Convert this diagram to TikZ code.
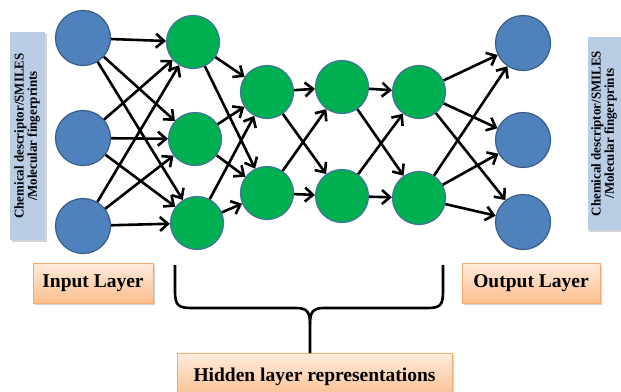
\documentclass[tikz,border=0pt]{standalone}
\usepackage{fontspec}
\setmainfont{Liberation Serif}
\usetikzlibrary{arrows.meta,shadows}

\definecolor{inblue}{RGB}{79,129,189}
\definecolor{inedge}{RGB}{56,93,138}
\definecolor{hidgreen}{RGB}{0,176,80}
\definecolor{hidedge}{RGB}{65,113,156}
\definecolor{sideblue}{RGB}{185,205,229}
\definecolor{peachtop}{RGB}{255,236,220}
\definecolor{peachbot}{RGB}{250,190,140}
\definecolor{peachedge}{RGB}{245,170,110}

\tikzset{
  neuron/.style={circle, inner sep=0pt, line width=1.2pt},
  innode/.style={neuron, minimum size=55pt, fill=inblue, draw=inedge},
  hidnode/.style={neuron, minimum size=53pt, fill=hidgreen, draw=hidedge},
  link/.style={line width=2.6pt, -{Straight Barb[length=8pt,width=14pt]}},
  softshadow/.style={drop shadow={opacity=0.35, shadow xshift=1.5pt, shadow yshift=-1.5pt}},
  layerbox/.style={draw=peachedge, line width=0.8pt, top color=peachtop,
    bottom color=peachbot, softshadow, inner sep=0pt,
    font=\fontsize{19.5}{22}\selectfont\bfseries},
  sidebox/.style={fill=sideblue, softshadow, rotate=90, inner sep=0pt,
    font=\fontsize{13.5}{13}\selectfont\bfseries},
  bracket/.style={line width=2.6pt, line join=round}
}

% two-line caption set along the side boxes
\newcommand{\sidetext}{\scalebox{0.96}[1]{\begin{tabular}{@{}c@{}}Chemical descriptor/SMILES\\/Molecular fingerprints\end{tabular}}}

\begin{document}
\begin{tikzpicture}[x=1pt, y=-1pt]
  \useasboundingbox (0,0) rectangle (621,391);
  \clip (0,0) rectangle (621,391);

  % side captions
  \node[sidebox, minimum width=208pt, minimum height=35pt] (lcap) at (27.5,136) {\raisebox{-1.5pt}{\sidetext}};
  \node[sidebox, minimum width=193pt, minimum height=34pt] (rcap) at (604.5,133.5) {\raisebox{-1.5pt}{\sidetext}};

  % input layer
  \node[innode] (i1) at (83,38) {};
  \node[innode] (i2) at (83,138) {};
  \node[innode] (i3) at (83,226) {};

  % hidden layers
  \node[hidnode] (a1) at (193,42) {};
  \node[hidnode] (a2) at (195,139) {};
  \node[hidnode] (a3) at (197,223) {};
  \node[hidnode] (b1) at (267,92) {};
  \node[hidnode] (b2) at (267,193) {};
  \node[hidnode] (c1) at (342,87) {};
  \node[hidnode] (c2) at (342,196) {};
  \node[hidnode] (d1) at (419,92) {};
  \node[hidnode] (d2) at (419,198) {};

  % output layer
  \node[innode] (o1) at (523,43) {};
  \node[innode] (o2) at (523,140) {};
  \node[innode] (o3) at (523,222) {};

  % connections
  \foreach \s in {i1,i2,i3} \foreach \t in {a1,a2,a3} \draw[link] (\s) -- (\t);
  \foreach \s in {a1,a2,a3} \foreach \t in {b1,b2} \draw[link] (\s) -- (\t);
  \foreach \s in {b1,b2} \foreach \t in {c1,c2} \draw[link] (\s) -- (\t);
  \foreach \s in {c1,c2} \foreach \t in {d1,d2} \draw[link] (\s) -- (\t);
  \foreach \s in {d1,d2} \foreach \t in {o1,o2,o3} \draw[link] (\s) -- (\t);

  % layer captions
  \node[layerbox, minimum width=120pt, minimum height=40pt] (inlab) at (93,283) {Input Layer};
  \node[layerbox, minimum width=138pt, minimum height=40pt] (outlab) at (531,283) {Output Layer};
  \node[layerbox, minimum width=275pt, minimum height=46pt, anchor=north] (hidlab) at (314.5,353) {Hidden layer representations};

  % brace over the hidden layers
  \coordinate (bl) at (175,265);
  \coordinate (br) at (443,265);
  \draw[bracket] (bl) -- (175,290) .. controls (175,306) and (178,308) .. (193,308)
    -- (296,308) .. controls (307,308) and (310,312) .. (310,324)
    -- (hidlab.north -| 310,0);
  \draw[bracket] (310,324) .. controls (310,312) and (313,308) .. (324,308)
    -- (427,308) .. controls (441,308) and (443,305) .. (443,290) -- (br);
\end{tikzpicture}
\end{document}
